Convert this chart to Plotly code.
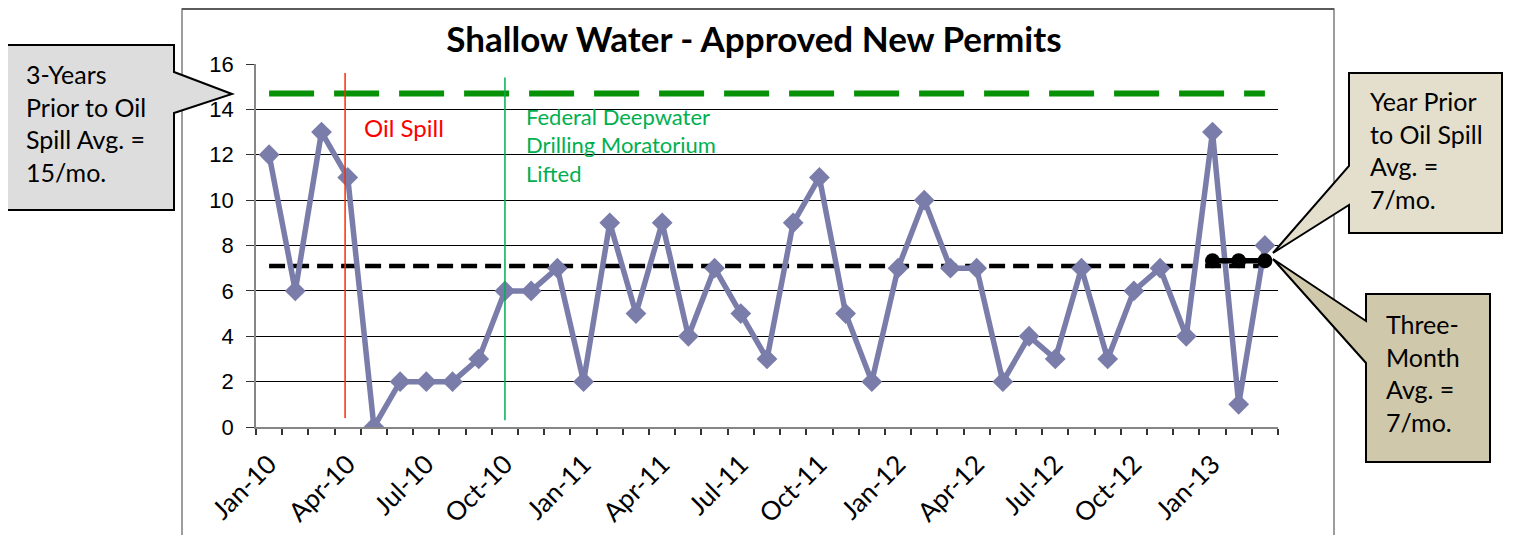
import plotly.graph_objects as go

months = ["Jan-10","Feb-10","Mar-10","Apr-10","May-10","Jun-10","Jul-10","Aug-10","Sep-10","Oct-10","Nov-10","Dec-10",
          "Jan-11","Feb-11","Mar-11","Apr-11","May-11","Jun-11","Jul-11","Aug-11","Sep-11","Oct-11","Nov-11","Dec-11",
          "Jan-12","Feb-12","Mar-12","Apr-12","May-12","Jun-12","Jul-12","Aug-12","Sep-12","Oct-12","Nov-12","Dec-12",
          "Jan-13","Feb-13","Mar-13"]
permits = [12, 6, 13, 11, 0, 2, 2, 2, 3, 6, 6, 7,
           2, 9, 5, 9, 4, 7, 5, 3, 9, 11, 5, 2,
           7, 10, 7, 7, 2, 4, 3, 7, 3, 6, 7, 4,
           13, 1, 8]
three_year_avg = 14.7
year_prior_avg = 7.1
three_month_avg = 7.33
oil_spill_x = 2.9
moratorium_x = 9.0
tick_labels = months[::3]

idx = list(range(len(months)))

# page body has an 8px margin; screen coordinates below are in window pixels
OFF = 8
W, H = 1513 - OFF, 535 - OFF
L, R, T, B = 256, 1278, 64, 427   # plot area in window pixels
def px(x):
    return (x - L) / (R - L)
def py(y):
    return (B - y) / (B - T)

fig = go.Figure()

fig.add_trace(go.Scatter(x=[idx[0], idx[-1]], y=[three_year_avg]*2, mode="lines",
                         line=dict(color="#079107", width=6, dash="45px,20px"), hoverinfo="skip"))
fig.add_trace(go.Scatter(x=[idx[0], idx[-1]], y=[year_prior_avg]*2, mode="lines",
                         line=dict(color="#000000", width=4.5, dash="16px,8px"), hoverinfo="skip"))
fig.add_trace(go.Scatter(x=idx, y=permits, mode="lines+markers",
                         line=dict(color="#7A7DAA", width=5.5),
                         marker=dict(symbol="diamond", size=16, color="#7A7DAA")))
fig.add_trace(go.Scatter(x=idx[-3:], y=[three_month_avg]*3, mode="lines+markers",
                         line=dict(color="#000000", width=5.5),
                         marker=dict(symbol="circle", size=15, color="#000000")))

# vertical event lines
fig.add_shape(type="line", x0=oil_spill_x, x1=oil_spill_x, y0=0.4, y1=15.6, xref="x", yref="y",
              line=dict(color="#FF2A00", width=1.5))
fig.add_shape(type="line", x0=moratorium_x, x1=moratorium_x, y0=0.3, y1=15.4, xref="x", yref="y",
              line=dict(color="#00B050", width=1.5))
fig.add_annotation(x=px(362), y=py(127), xref="paper", yref="paper", text="Oil Spill", showarrow=False,
                   xanchor="left", yanchor="middle", font=dict(family="Lato", size=24, color="#FF0000"))
for i, line in enumerate(["Federal Deepwater", "Drilling Moratorium", "Lifted"]):
    fig.add_annotation(x=px(524), y=py(116 + i * 28.5), xref="paper", yref="paper", text=line,
                       showarrow=False, xanchor="left", yanchor="middle",
                       font=dict(family="Lato", size=22, color="#00B050"))

# chart frame
fig.add_shape(type="rect", xref="paper", yref="paper", x0=px(182), x1=px(1334), y0=py(560), y1=py(9),
              line=dict(color="#7F7F7F", width=1.5), layer="below")
fig.add_shape(type="line", xref="paper", yref="paper", x0=px(182), x1=px(1334), y0=py(9), y1=py(9),
              line=dict(color="#444444", width=1.5), layer="below")

def poly(points):
    return "M " + " L ".join(f"{px(a):.5f} {py(b):.5f}" for a, b in points) + " Z"

fig.add_shape(type="path", xref="paper", yref="paper",
              path=poly([(6, 45), (174, 45), (174, 72), (232, 94), (174, 113), (174, 210), (6, 210)]),
              fillcolor="#DDDDDD", line=dict(color="#000000", width=2))
fig.add_shape(type="path", xref="paper", yref="paper",
              path=poly([(1349, 73), (1502, 73), (1502, 233), (1349, 233), (1349, 205), (1273, 253), (1349, 166)]),
              fillcolor="#E3DFCC", line=dict(color="#000000", width=2))
fig.add_shape(type="path", xref="paper", yref="paper",
              path=poly([(1366, 294), (1490, 294), (1490, 462), (1366, 462), (1366, 363), (1273, 259), (1366, 321)]),
              fillcolor="#D0C8AA", line=dict(color="#000000", width=2))

def callout_text(lines, x0, y0, step=32.5):
    for i, t in enumerate(lines):
        fig.add_annotation(x=px(x0), y=py(y0 + i * step), xref="paper", yref="paper", text=t, showarrow=False,
                           xanchor="left", yanchor="middle", font=dict(family="Lato", size=25, color="#000000"))

callout_text(["3-Years", "Prior to Oil", "Spill Avg. =", "15/mo."], 24, 74)
callout_text(["Year Prior", "to Oil Spill", "Avg. =", "7/mo."], 1368, 101)
callout_text(["Three-", "Month", "Avg. =", "7/mo."], 1384, 324)

fig.update_layout(
    width=W, height=H,
    margin=dict(l=L - OFF, r=W - (R - OFF), t=T - OFF, b=H - (B - OFF), pad=0, autoexpand=False),
    paper_bgcolor="white", plot_bgcolor="white",
    showlegend=False,
    title=dict(text="<b>Shallow Water - Approved New Permits</b>", x=(754 - OFF) / W, xanchor="center",
               y=1 - (40 - OFF) / H, yanchor="middle", font=dict(family="Lato", size=35, color="#000000")),
)
fig.update_xaxes(range=[-0.5, len(months) - 0.5], tickmode="array", tickvals=idx[::3], ticktext=tick_labels,
                 tickangle=-45, ticks="", showgrid=False, zeroline=False, automargin=False,
                 showline=True, linecolor="#868686", linewidth=1.5, ticklabelstandoff=10,
                 tickfont=dict(family="Lato", size=26, color="#000000"),
                 minor=dict(tickvals=[i - 0.5 for i in range(len(months) + 1)], ticks="outside", ticklen=6,
                            tickcolor="#333333", tickwidth=1.5, showgrid=False))
fig.update_yaxes(range=[0, 16], tickvals=list(range(0, 17, 2)), showgrid=True, gridcolor="#000000", gridwidth=1,
                 zeroline=False, showline=True, linecolor="#868686", linewidth=1.5, automargin=False,
                 ticks="outside", ticklen=8, tickcolor="#333333", ticklabelstandoff=8,
                 tickfont=dict(family="Liberation Sans", size=22, color="#000000"))

fig.write_html("out.html")
